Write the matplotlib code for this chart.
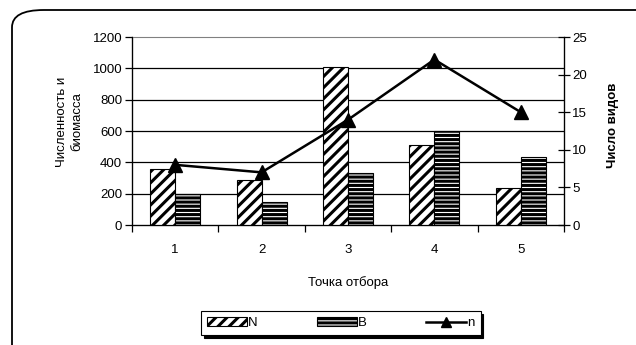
import numpy as np
import matplotlib
matplotlib.use("Agg")
import matplotlib.pyplot as plt
from matplotlib.patches import FancyBboxPatch

plt.rcParams["font.family"] = ["Liberation Sans", "DejaVu Sans"]
plt.rcParams["hatch.linewidth"] = 2.2
plt.rcParams["hatch.color"] = "black"

# точки отбора и показатели
tochki = ["1", "2", "3", "4", "5"]
N = [360, 290, 1010, 510, 235]
B = [200, 150, 330, 600, 435]
n = [8, 7, 14, 22, 15]

fs = 9.5

fig = plt.figure(figsize=(6.36, 3.45), dpi=100)

# рамка с закруглёнными углами вокруг диаграммы
ramka = FancyBboxPatch((12 / 636, -0.2), 1.2, 1.2 - 10 / 345,
                       boxstyle="round,pad=0,rounding_size=0.05",
                       transform=fig.transFigure, facecolor="none",
                       edgecolor="black", linewidth=1.3, zorder=0)
fig.patches.append(ramka)

ax = fig.add_axes([132 / 636, 1 - 225 / 345, (564 - 132) / 636, (225 - 37) / 345])
ax2 = ax.twinx()

x = np.arange(len(tochki))
w = 0.29
ax.bar(x - w / 2, N, w, facecolor="white", edgecolor="black", hatch="///",
       linewidth=0.8, label="N", zorder=3)
ax.bar(x + w / 2, B, w, facecolor="white", edgecolor="black", hatch="----",
       linewidth=0.8, label="B", zorder=3)

ax.set_xlim(-0.5, 4.5)
ax.set_ylim(0, 1200)
ax.set_yticks(range(0, 1201, 200))
for yv in range(200, 1200, 200):
    ax.axhline(yv, color="black", linewidth=0.9, zorder=1)

ax.set_xticks(x)
ax.set_xticklabels(tochki)
ax.set_xticks(np.arange(-0.5, 4.6, 1), minor=True)
ax.tick_params(axis="x", which="major", length=0, labelsize=fs, pad=14)
ax.tick_params(axis="x", which="minor", length=5, width=0.9, direction="out")
ax.tick_params(axis="y", length=5, width=0.9, labelsize=fs, pad=2)

ax.spines["top"].set_color("#808080")
ax.spines["left"].set_linewidth(0.9)
ax.spines["bottom"].set_linewidth(0.9)

ax2.plot(x, n, color="black", linewidth=1.8, marker="^", markersize=10,
         label="n", zorder=4)
ax2.set_ylim(0, 25)
ax2.set_yticks(range(0, 26, 5))
ax2.tick_params(axis="y", length=8, width=0.9, direction="inout", labelsize=fs, pad=2)
ax2.spines["right"].set_linewidth(0.9)
ax2.spines["top"].set_visible(False)

ax.set_xlabel("Точка отбора", fontsize=fs, labelpad=14)
ax.set_ylabel("Численность и\nбиомасса", fontsize=fs, linespacing=1.3)
ax.yaxis.set_label_coords(-0.113, 0.55)
ax2.set_ylabel("Число видов", fontsize=fs, fontweight="bold")
ax2.yaxis.set_label_coords(1.1, 0.53)

h1, l1 = ax.get_legend_handles_labels()
h2, l2 = ax2.get_legend_handles_labels()
leg = fig.legend(h1 + h2, l1 + l2, ncol=3, loc="center",
                 bbox_to_anchor=(341 / 636, 1 - 323 / 345),
                 fontsize=fs, frameon=True, fancybox=False,
                 shadow={"color": "black", "alpha": 1},
                 markerscale=0.75,
                 handlelength=3.0, handleheight=0.6, handletextpad=0.1,
                 columnspacing=4.5, borderpad=0.45, borderaxespad=0)
leg.get_frame().set_edgecolor("black")
leg.get_frame().set_linewidth(0.8)

fig.savefig("out.png", dpi=100)
